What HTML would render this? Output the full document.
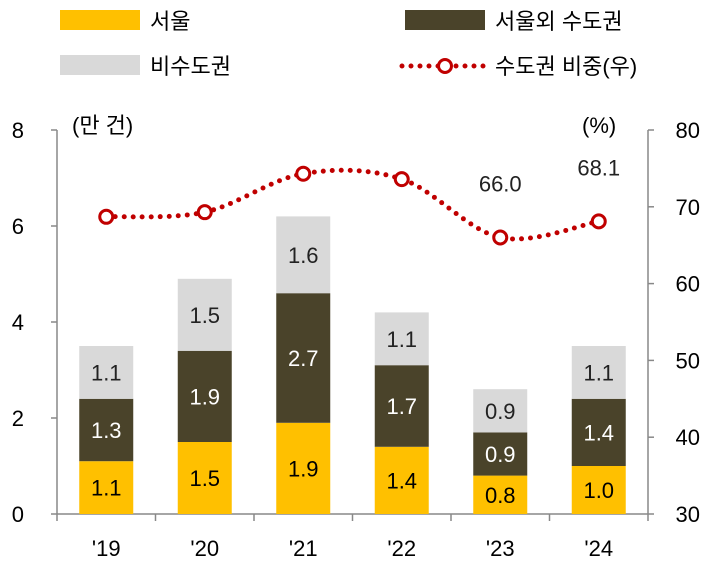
<!DOCTYPE html>
<html><head><meta charset="utf-8"><style>
body{margin:0;background:#fff;}
svg text{font-family:"Liberation Sans","Noto Sans CJK KR",sans-serif;}
</style></head><body>
<svg id="chart" width="725" height="575" xmlns="http://www.w3.org/2000/svg">
<g>
<rect x="60" y="10" width="80" height="20" fill="#FFC000"/>
<text x="150" y="29" font-size="22">서울</text>
<rect x="405" y="10" width="80" height="20" fill="#4A432A"/>
<text x="495" y="29" font-size="22">서울외 수도권</text>
<rect x="60" y="55" width="80" height="20" fill="#D9D9D9"/>
<text x="150" y="74" font-size="22">비수도권</text>
<line x1="402" y1="66" x2="488" y2="66" stroke="#C00000" stroke-width="5" stroke-linecap="round" stroke-dasharray="0 9"/>
<circle cx="445" cy="66" r="6.5" fill="#fff" stroke="#C00000" stroke-width="3"/>
<text x="495" y="74" font-size="22">수도권 비중(우)</text>
</g>
<text x="72" y="133" font-size="22">(만 건)</text>
<text x="582" y="133" font-size="22">(%)</text>
<g id="plot"></g>
</svg>
<script>
const categories=["'19","'20","'21","'22","'23","'24"];
const seoul=[1.1,1.5,1.9,1.4,0.8,1.0];
const metro=[1.3,1.9,2.7,1.7,0.9,1.4];
const nonMetro=[1.1,1.5,1.6,1.1,0.9,1.1];
const ratio=[68.7,69.3,74.3,73.6,66.0,68.1];
const ratioLabels=[null,null,null,null,"66.0","68.1"];
const leftTicks=[0,2,4,6,8];
const rightTicks=[30,40,50,60,70,80];

const NS="http://www.w3.org/2000/svg";
const g=document.getElementById('plot');
const X0=57,X1=648,Y0=514,Y1=130;
const yL=v=>Y0-(v/8)*(Y0-Y1);
const yR=v=>Y0-((v-30)/50)*(Y0-Y1);
const step=(X1-X0)/categories.length;
const xC=i=>X0+step*(i+0.5);
const bw=54;
function mk(t,a){const e=document.createElementNS(NS,t);for(const k in a)e.setAttribute(k,a[k]);g.appendChild(e);return e;}

// axes
let e=mk('line',{x1:X0,y1:Y1,x2:X0,y2:Y0,stroke:'#888','stroke-width':1.5});


e=mk('line',{x1:X1,y1:Y1,x2:X1,y2:Y0,stroke:'#888','stroke-width':1.5});


e=mk('line',{x1:X0,y1:Y0,x2:X1,y2:Y0,stroke:'#888','stroke-width':1.5});


leftTicks.forEach(v=>{
 let t=mk('line',{x1:X0-6,y1:yL(v),x2:X0,y2:yL(v),stroke:'#888','stroke-width':1.5});
 
 
 t=mk('text',{x:24,y:yL(v)+8,'font-size':22,'text-anchor':'end'});t.textContent=v;
 
 
});
rightTicks.forEach(v=>{
 let t=mk('line',{x1:X1,y1:yR(v),x2:X1+6,y2:yR(v),stroke:'#888','stroke-width':1.5});
 
 
 t=mk('text',{x:700,y:yR(v)+8,'font-size':22,'text-anchor':'end'});t.textContent=v;
 
 
});
for(let i=0;i<=categories.length;i++){
 let t=mk('line',{x1:X0+step*i,y1:Y0,x2:X0+step*i,y2:Y0+7,stroke:'#888','stroke-width':1.5});
 
 
}
categories.forEach((c,i)=>{
 let t=mk('text',{x:xC(i),y:556,'font-size':22,'text-anchor':'middle'});t.textContent=c;
 
 
 const segs=[[seoul[i],'#FFC000','#000','bar-seoul'],[metro[i],'#4A432A','#fff','bar-metro'],[nonMetro[i],'#D9D9D9','#222','bar-nonmetro']];
 let base=0;
 segs.forEach(s=>{
  const top=yL(base+s[0]),bot=yL(base);
  let r=mk('rect',{x:xC(i)-bw/2,y:top,width:bw,height:bot-top,fill:s[1]});
  
  
  let l=mk('text',{x:xC(i),y:(top+bot)/2+8,'font-size':22,'text-anchor':'middle',fill:s[2]});l.textContent=s[0].toFixed(1);
  
  
  base+=s[0];
 });
});
// smooth line
const pts=ratio.map((v,i)=>[xC(i),yR(v)]);
let d='M'+pts[0][0]+','+pts[0][1];
for(let i=0;i<pts.length-1;i++){
 const p0=pts[Math.max(i-1,0)],p1=pts[i],p2=pts[i+1],p3=pts[Math.min(i+2,pts.length-1)];
 const c1=[p1[0]+(p2[0]-p0[0])/6,p1[1]+(p2[1]-p0[1])/6],c2=[p2[0]-(p3[0]-p1[0])/6,p2[1]-(p3[1]-p1[1])/6];
 d+=' C'+c1+' '+c2+' '+p2;
}
e=mk('path',{d:d,fill:'none',stroke:'#C00000','stroke-width':5,'stroke-linecap':'round','stroke-dasharray':'0 9'});


pts.forEach((p,i)=>{
 let c=mk('circle',{cx:p[0],cy:p[1],r:6.5,fill:'#fff',stroke:'#C00000','stroke-width':3});
 
 
 if(ratioLabels[i]){
  let t=mk('text',{x:p[0],y:p[1]-46,'font-size':22,'text-anchor':'middle',fill:'#222'});t.textContent=ratioLabels[i];
  
  
 }
});
</script>
</body></html>
